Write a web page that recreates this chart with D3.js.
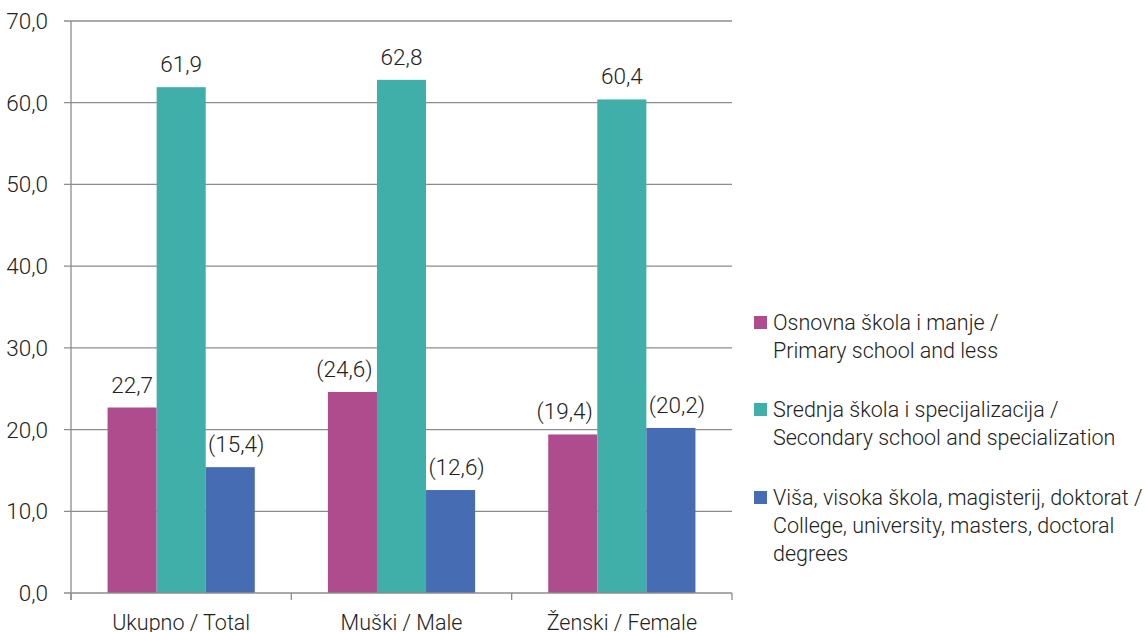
<!DOCTYPE html>
<html><head><meta charset="utf-8">
<script src="https://cdn.jsdelivr.net/npm/d3@7"></script>
<style>body{margin:0;background:#fff}text{font-family:Roboto,"Noto Sans",sans-serif;font-weight:300;fill:#222}</style>
</head><body><svg id="c" width="1145" height="632"></svg>
<script>
const categories = ["Ukupno / Total", "Muški / Male", "Ženski / Female"];
const seriesNames = [
  ["Osnovna škola i manje /", "Primary school and less"],
  ["Srednja škola i specijalizacija /", "Secondary school and specialization"],
  ["Viša, visoka škola, magisterij, doktorat /", "College, university, masters, doctoral", "degrees"]
];
const primary = [22.7, 24.6, 19.4];
const secondary = [61.9, 62.8, 60.4];
const college = [15.4, 12.6, 20.2];
const primaryLabels = ["22,7", "(24,6)", "(19,4)"];
const secondaryLabels = ["61,9", "62,8", "60,4"];
const collegeLabels = ["(15,4)", "(12,6)", "(20,2)"];
const yTicks = [0, 10, 20, 30, 40, 50, 60, 70];
const colors = ["#AE4C8E", "#40AFA9", "#466DB4"];

const series = [primary, secondary, college];
const labels = [primaryLabels, secondaryLabels, collegeLabels];
const svg = d3.select("#c");
const FS = 22.5, FL = 21.5;
const L = 71, R = 732, T = 21, B = 593;
const x = d3.scaleBand().domain(categories).range([L, R]).paddingInner(0).paddingOuter(0);
const y = d3.scaleLinear().domain([0, 70]).range([B, T]);
const inner = d3.scaleBand().domain([0,1,2]).range([0, x.bandwidth()]).paddingInner(0).paddingOuter(0.745);
const labelShift = [-8, 0, 6];

svg.append("g").selectAll("line").data(yTicks.filter(d=>d>0)).join("line")
  .attr("x1", L - 7).attr("x2", R).attr("y1", d=>y(d)).attr("y2", d=>y(d))
  .attr("stroke", "#8c8c8c").attr("stroke-width", 1.3);

svg.append("g").selectAll("text").data(yTicks).join("text")
  .attr("x", 48).attr("y", d=>y(d) + 8).attr("text-anchor", "end")
  .attr("font-size", FS).text(d=>d.toFixed(1).replace(".", ","));

categories.forEach((c, ci) => {
  series.forEach((s, si) => {
    svg.append("rect").attr("x", x(c) + inner(si)).attr("width", inner.bandwidth())
      .attr("y", y(s[ci])).attr("height", y(0) - y(s[ci])).attr("fill", colors[si]);
    const lab = labels[si][ci];
    const shift = lab.startsWith("(") ? labelShift[si] : 0;
    svg.append("text").attr("x", x(c) + inner(si) + inner.bandwidth()/2 + shift).attr("y", y(s[ci]) - 15)
      .attr("text-anchor", "middle").attr("font-size", FS).text(lab);
  });
});

svg.append("line").attr("x1", L).attr("x2", L).attr("y1", T).attr("y2", B + 7).attr("stroke", "#8c8c8c").attr("stroke-width", 1.3);
svg.append("line").attr("x1", L - 7).attr("x2", R).attr("y1", B).attr("y2", B).attr("stroke", "#8c8c8c").attr("stroke-width", 1.3);
svg.append("g").selectAll("line").data(categories.map(c=>x(c)).concat([R])).join("line")
  .attr("x1", d=>d).attr("x2", d=>d).attr("y1", B).attr("y2", B + 7).attr("stroke", "#8c8c8c").attr("stroke-width", 1.3);
svg.append("g").selectAll("text").data(categories).join("text")
  .attr("x", d=>x(d) + x.bandwidth()/2).attr("y", 630).attr("text-anchor", "middle")
  .attr("font-size", FL).text(d=>d);

const legendY = [330, 417, 505];
seriesNames.forEach((lines, i) => {
  svg.append("rect").attr("x", 754).attr("y", legendY[i] - 14).attr("width", 13).attr("height", 13).attr("fill", colors[i]);
  lines.forEach((t, j) => {
    svg.append("text").attr("x", 773).attr("y", legendY[i] + j * 27.8)
      .attr("font-size", FL).text(t);
  });
});
</script></body></html>
